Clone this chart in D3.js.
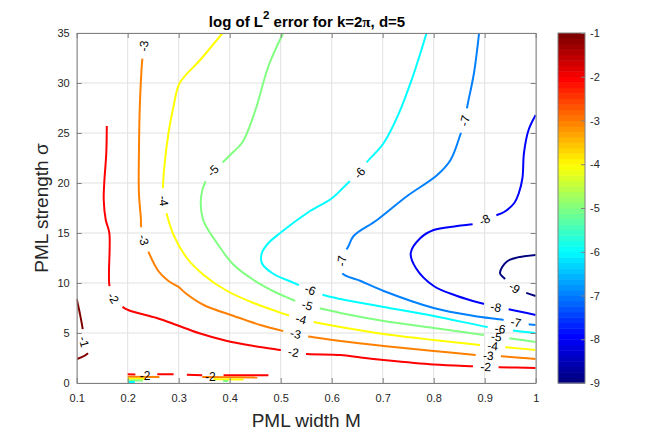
<!DOCTYPE html>
<html>
<head>
<meta charset="utf-8">
<script src="https://cdn.jsdelivr.net/npm/d3@7"></script>
<style>
body { margin: 0; background: #fff; }
text { font-family: "Liberation Sans", Arial, sans-serif; }
</style>
</head>
<body>
<svg id="chart" width="668" height="433"></svg>
<script>
// contour lines, each point is [M, sigma]
const lineM1 = [[0.1,8.4],[0.106,7.0],[0.112,5.3],[0.114,4.1],[0.123,3.06],[0.101,2.4]];
const lineM2 = [[0.159,25.7],[0.158,23],[0.154,20],[0.153,18.3],[0.157,16.3],[0.164,15],[0.164,9.8],[0.171,8.5],
  [0.185,7.8],[0.201,7.3],[0.257,6.5],[0.296,5.8],[0.339,5.0],[0.395,4.2],[0.447,3.7],[0.499,3.3],[0.525,3.05],
  [0.552,2.9],[0.617,2.8],[0.657,2.55],[0.702,2.3],[0.8,1.85],[0.885,1.65],[0.902,1.6],[0.928,1.58],[1.0,1.5]];
const lineM3 = [[0.234,35],[0.232,33.7],[0.229,32.6],[0.224,28],[0.222,23],[0.222,19],[0.226,16.3],[0.226,15.8],
  [0.231,14.3],[0.239,13.3],[0.26,11.2],[0.28,10.2],[0.3,9.6],[0.313,9.0],[0.349,7.8],[0.408,6.7],[0.46,5.8],
  [0.512,5.1],[0.529,4.9],[0.555,4.65],[0.617,4.2],[0.702,3.7],[0.8,3.2],[0.885,2.8],[0.907,2.72],[0.928,2.68],[1.0,2.4]];
const lineM4 = [[0.386,35],[0.342,32.3],[0.302,30],[0.29,27.7],[0.28,25],[0.272,21.7],[0.269,19.3],[0.27,18.2],
  [0.277,16.8],[0.29,14.8],[0.316,12.5],[0.349,10.8],[0.395,9.2],[0.447,8.0],[0.513,6.8],[0.54,6.35],[0.565,6.1],
  [0.617,5.6],[0.702,4.9],[0.8,4.3],[0.892,3.8],[0.915,3.7],[0.937,3.6],[1.0,3.3]];
const lineM5 = [[0.505,35],[0.476,31.7],[0.453,27.7],[0.434,25],[0.424,24],[0.401,22.8],[0.383,21.9],[0.367,21.2],
  [0.353,20.2],[0.344,18.7],[0.348,16.3],[0.375,14.0],[0.408,11.8],[0.447,10.3],[0.493,9.0],[0.52,8.4],[0.552,7.75],
  [0.575,7.5],[0.617,7.0],[0.702,6.2],[0.8,5.5],[0.899,4.8],[0.923,4.6],[0.943,4.5],[1.0,4.1]];
const lineM6 = [[0.786,35],[0.774,33],[0.758,30.5],[0.732,27],[0.702,24],[0.666,21.9],[0.655,21],[0.634,20.1],
  [0.601,18.5],[0.552,17],[0.499,15],[0.476,14],[0.463,13],[0.463,12],[0.483,11],[0.526,10],[0.558,9.3],
  [0.584,8.8],[0.617,8.4],[0.702,7.6],[0.8,6.7],[0.905,5.6],[0.93,5.4],[0.945,5.3],[1.0,5.0]];
const lineM7 = [[0.889,35],[0.879,31],[0.866,27.7],[0.861,26.2],[0.852,24.8],[0.833,22.3],[0.807,20.8],[0.748,18.7],
  [0.689,16.3],[0.643,14.7],[0.632,13.6],[0.622,12.8],[0.62,12.2],[0.62,11.0],[0.657,10.2],[0.702,9.2],[0.8,7.5],
  [0.879,6.7],[0.938,6.3],[0.961,6.05],[0.982,5.9],[1.0,5.8]];
const lineM8 = [[1.0,26.8],[0.986,25.3],[0.977,23],[0.974,20.5],[0.967,19],[0.958,18],[0.938,17.1],[0.919,16.7],
  [0.9,16.3],[0.889,16],[0.846,15.7],[0.8,15.3],[0.774,14.5],[0.755,13],[0.765,11.5],[0.8,9.7],[0.846,8.7],
  [0.905,7.8],[0.922,7.55],[0.945,7.4],[1.0,6.8]];
const lineM9 = [[1.0,12.8],[0.945,12.2],[0.93,11],[0.938,10.5],[0.958,9.5],[0.977,9.1],[1.0,8.7]];

// where the inline labels sit on each line
const labelsM1 = [[0.114,4.1]];
const labelsM2 = [[0.171,8.5],[0.525,3.05],[0.902,1.6]];
const labelsM3 = [[0.232,33.7],[0.231,14.3],[0.529,4.9],[0.907,2.72]];
const labelsM4 = [[0.27,18.2],[0.54,6.35],[0.915,3.7]];
const labelsM5 = [[0.367,21.2],[0.552,7.75],[0.923,4.6]];
const labelsM6 = [[0.655,21],[0.558,9.3],[0.93,5.4]];
const labelsM7 = [[0.861,26.2],[0.62,12.2],[0.961,6.05]];
const labelsM8 = [[0.9,16.3],[0.922,7.55]];
const labelsM9 = [[0.958,9.5]];

// noisy bits near sigma = 0
const stripLevels = [-2,-2,-3,-4,-5,-6,-2,-2,-3,-4,-5];
const stripLines = [
  [[0.2,0.87],[0.215,0.85]], [[0.258,0.87],[0.29,0.87]],
  [[0.2,0.62],[0.262,0.6]], [[0.2,0.43],[0.235,0.43]], [[0.2,0.26],[0.23,0.25]], [[0.201,0.1],[0.214,0.1]],
  [[0.316,0.82],[0.346,0.78]], [[0.388,0.78],[0.476,0.77]],
  [[0.346,0.6],[0.454,0.55]], [[0.368,0.37],[0.427,0.35]], [[0.387,0.2],[0.397,0.2]]
];
const stripLabels = [[0.234,0.72],[0.362,0.65]];

const xTicks = [0.1,0.2,0.3,0.4,0.5,0.6,0.7,0.8,0.9,1];
const yTicks = [0,5,10,15,20,25,30,35];
const cbTicks = [-9,-8,-7,-6,-5,-4,-3,-2,-1];
const jetColors = ["#000080","#0000ff","#0080ff","#00ffff","#80ff80","#ffff00","#ff8000","#ff0000","#800000"];

const contours = [
  {level:-1, pts:lineM1, labels:labelsM1},
  {level:-2, pts:lineM2, labels:labelsM2},
  {level:-3, pts:lineM3, labels:labelsM3},
  {level:-4, pts:lineM4, labels:labelsM4},
  {level:-5, pts:lineM5, labels:labelsM5},
  {level:-6, pts:lineM6, labels:labelsM6},
  {level:-7, pts:lineM7, labels:labelsM7},
  {level:-8, pts:lineM8, labels:labelsM8},
  {level:-9, pts:lineM9, labels:labelsM9}
];

const svg = d3.select("#chart");
const x = d3.scaleLinear().domain([0.1, 1]).range([76.7, 535.7]);
const y = d3.scaleLinear().domain([0, 35]).range([383, 33]);
const color = d3.scaleLinear().domain(cbTicks).range(jetColors);
const axisGrey = "#808080", textGrey = "#262626";

svg.append("defs").append("clipPath").attr("id", "plotclip")
  .append("rect").attr("x", x(0.1)).attr("y", y(35)).attr("width", x(1) - x(0.1)).attr("height", y(0) - y(35));

// grid
const grid = svg.append("g").attr("stroke", "#e1e1e1").attr("stroke-width", 1);
grid.selectAll(".gx").data(xTicks).enter().append("line")
  .attr("x1", d => x(d)).attr("x2", d => x(d)).attr("y1", y(0)).attr("y2", y(35));
grid.selectAll(".gy").data(yTicks).enter().append("line")
  .attr("y1", d => y(d)).attr("y2", d => y(d)).attr("x1", x(0.1)).attr("x2", x(1));

const line = d3.line().x(d => x(d[0])).y(d => y(d[1]));
const smooth = d3.line().x(d => x(d[0])).y(d => y(d[1])).curve(d3.curveCatmullRom.alpha(0.5));
const plot = svg.append("g").attr("clip-path", "url(#plotclip)");

// strip bits near the bottom
plot.selectAll(".strip").data(stripLines).enter().append("path")
  .attr("d", line).attr("fill", "none").attr("stroke-width", 2)
  .attr("stroke", (d, i) => color(stripLevels[i]));
plot.selectAll(".striplab").data(stripLabels).enter().append("text")
  .attr("x", d => x(d[0])).attr("y", d => y(d[1]))
  .attr("text-anchor", "middle").attr("dominant-baseline", "central")
  .attr("font-size", 12).attr("fill", "#000").text("-2");

// contour lines with a break where the label goes
contours.forEach(c => {
  const path = plot.append("path").datum(c.pts)
    .attr("d", smooth).attr("fill", "none")
    .attr("stroke", color(c.level)).attr("stroke-width", 2)
    .attr("stroke-linejoin", "round");
  const node = path.node();
  const total = node.getTotalLength();
  const gaps = [];
  c.labels.forEach(p => {
    const px = x(p[0]), py = y(p[1]);
    let best = 0, bestD = Infinity;
    for (let s = 0; s <= total; s += 0.5) {
      const q = node.getPointAtLength(s);
      const dd = (q.x - px) * (q.x - px) + (q.y - py) * (q.y - py);
      if (dd < bestD) { bestD = dd; best = s; }
    }
    const at = node.getPointAtLength(best);
    const a = node.getPointAtLength(Math.max(0, best - 3));
    const b = node.getPointAtLength(Math.min(total, best + 3));
    let ang = Math.atan2(b.y - a.y, b.x - a.x) * 180 / Math.PI;
    if (ang > 90) ang -= 180;
    if (ang <= -90) ang += 180;
    const t = plot.append("text")
      .attr("transform", `translate(${at.x},${at.y}) rotate(${ang})`)
      .attr("text-anchor", "middle").attr("dominant-baseline", "central")
      .attr("font-size", 12).attr("fill", "#000").text(String(c.level));
    const w = t.node().getComputedTextLength() + 15;
    gaps.push([Math.max(0, best - w / 2), Math.min(total, best + w / 2)]);
  });
  gaps.sort((p, q) => p[0] - q[0]);
  const dash = [];
  let cur = 0;
  gaps.forEach(g => { dash.push(Math.max(0, g[0] - cur), g[1] - g[0]); cur = g[1]; });
  dash.push(Math.max(0, total - cur), total + 10);
  path.attr("stroke-dasharray", dash.join(","));
});

// axes, ticks inside on all four sides
function styleAxis(g) {
  g.select(".domain").attr("stroke", axisGrey);
  g.selectAll(".tick line").attr("stroke", axisGrey);
  g.selectAll(".tick text").attr("fill", textGrey).attr("font-size", 11)
    .attr("font-family", "'Liberation Sans', Arial, sans-serif");
}
const fmt = d => String(d);
svg.append("g").attr("transform", `translate(0,${y(0)})`)
  .call(d3.axisBottom(x).tickValues(xTicks).tickFormat(fmt).tickSizeInner(-5).tickSizeOuter(0).tickPadding(11))
  .call(styleAxis);
svg.append("g").attr("transform", `translate(0,${y(35)})`)
  .call(d3.axisTop(x).tickValues(xTicks).tickFormat("").tickSizeInner(-5).tickSizeOuter(0))
  .call(styleAxis);
svg.append("g").attr("transform", `translate(${x(0.1)},0)`)
  .call(d3.axisLeft(y).tickValues(yTicks).tickFormat(fmt).tickSizeInner(-5).tickSizeOuter(0).tickPadding(7))
  .call(styleAxis);
svg.append("g").attr("transform", `translate(${x(1)},0)`)
  .call(d3.axisRight(y).tickValues(yTicks).tickFormat("").tickSizeInner(-5).tickSizeOuter(0))
  .call(styleAxis);

// axis labels and title
svg.append("text").attr("x", (x(0.1) + x(1)) / 2).attr("y", 427)
  .attr("text-anchor", "middle").attr("font-size", 19).attr("fill", textGrey).text("PML width M");
svg.append("text").attr("transform", `translate(48,${(y(0) + y(35)) / 2}) rotate(-90)`)
  .attr("text-anchor", "middle").attr("font-size", 19).attr("fill", textGrey).text("PML strength σ");
const title = svg.append("text").attr("x", 307).attr("y", 26.5)
  .attr("text-anchor", "middle").attr("font-size", 15).attr("font-weight", "bold").attr("fill", "#000");
title.append("tspan").text("log of L");
title.append("tspan").attr("dy", -7.5).attr("font-size", 11.5).text("2");
title.append("tspan").attr("dy", 7.5).text(" error for k=2");
title.append("tspan").attr("font-family", "'Liberation Serif', serif").text("π");
title.append("tspan").text(", d=5");

// colorbar, 64 jet bands
const cbX = 558, cbW = 27;
const cbY = d3.scaleLinear().domain([-9, -1]).range([383, 33]);
const nBands = 64, step = 8 / nBands;
svg.append("g").selectAll("rect").data(d3.range(nBands)).enter().append("rect")
  .attr("x", cbX).attr("width", cbW)
  .attr("y", i => cbY(-9 + (i + 1) * step))
  .attr("height", i => cbY(-9 + i * step) - cbY(-9 + (i + 1) * step) + 0.5)
  .attr("fill", i => color(-9 + 8 * i / (nBands - 1)));
svg.append("rect").attr("x", cbX).attr("y", cbY(-1)).attr("width", cbW).attr("height", cbY(-9) - cbY(-1))
  .attr("fill", "none").attr("stroke", axisGrey);
svg.append("g").attr("transform", `translate(${cbX + cbW},0)`)
  .call(d3.axisRight(cbY).tickValues(cbTicks).tickFormat(fmt).tickSizeInner(-4).tickSizeOuter(0).tickPadding(5))
  .call(styleAxis)
  .call(g => g.select(".domain").remove());
</script>
</body>
</html>
